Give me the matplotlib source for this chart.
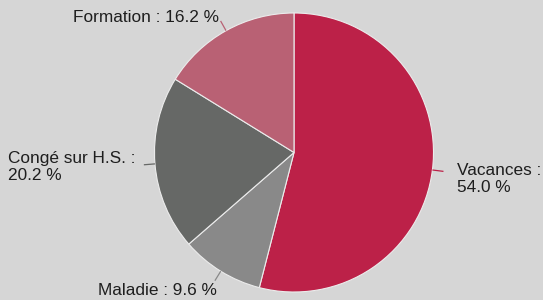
import numpy as np
import matplotlib
matplotlib.use("Agg")
import matplotlib.pyplot as plt

# Data (clockwise from 12 o'clock)
categories = ["Vacances", "Maladie", "Congé sur H.S.", "Formation"]
shares = [54.0, 9.6, 20.2, 16.2]
colors = ["#BC2148", "#898989", "#666866", "#B96174"]

# label text layout: (label text, x, y, ha)
label_layout = {
    "Vacances": ("{name} :\n{val:.1f} %", 1.168, -0.19, "left"),
    "Maladie": ("{name} : {val:.1f} %", -0.552, -0.986, "right"),
    "Congé sur H.S.": ("{name} :\n{val:.1f} %", -2.05, -0.104, "left"),
    "Formation": ("{name} : {val:.1f} %", -0.538, 0.971, "right"),
}

plt.rcParams["font.family"] = ["Liberation Sans", "DejaVu Sans"]

bg = "#D6D6D6"
fig = plt.figure(figsize=(5.43, 3.0), dpi=100, facecolor=bg)
ax = fig.add_axes([0, 0, 1, 1])
ax.set_facecolor(bg)

wedges, _ = ax.pie(
    shares, colors=colors, startangle=90, counterclock=False, radius=1.0,
    wedgeprops=dict(edgecolor="#ececec", linewidth=0.8),
)

total = sum(shares)
cum = 0.0
for name, val, col in zip(categories, shares, colors):
    mid = 90 - (cum + val / 2) / total * 360
    cum += val
    a = np.deg2rad(mid)
    ax.plot([np.cos(a) * 1.0, np.cos(a) * 1.08], [np.sin(a) * 1.0, np.sin(a) * 1.08],
            color=col, lw=0.9, solid_capstyle="butt")
    fmt, tx, ty, ha = label_layout[name]
    ax.text(tx, ty, fmt.format(name=name, val=val), ha=ha, va="center",
            fontsize=12.4, color="#1e1e1e", linespacing=1.15)

ax.set_xlim(-294 / 139.5, (543 - 294) / 139.5)
ax.set_ylim(-(300 - 152.5) / 139.5, 152.5 / 139.5)
ax.set_aspect("equal")
ax.axis("off")

fig.savefig("out.png", dpi=100, facecolor=bg)
